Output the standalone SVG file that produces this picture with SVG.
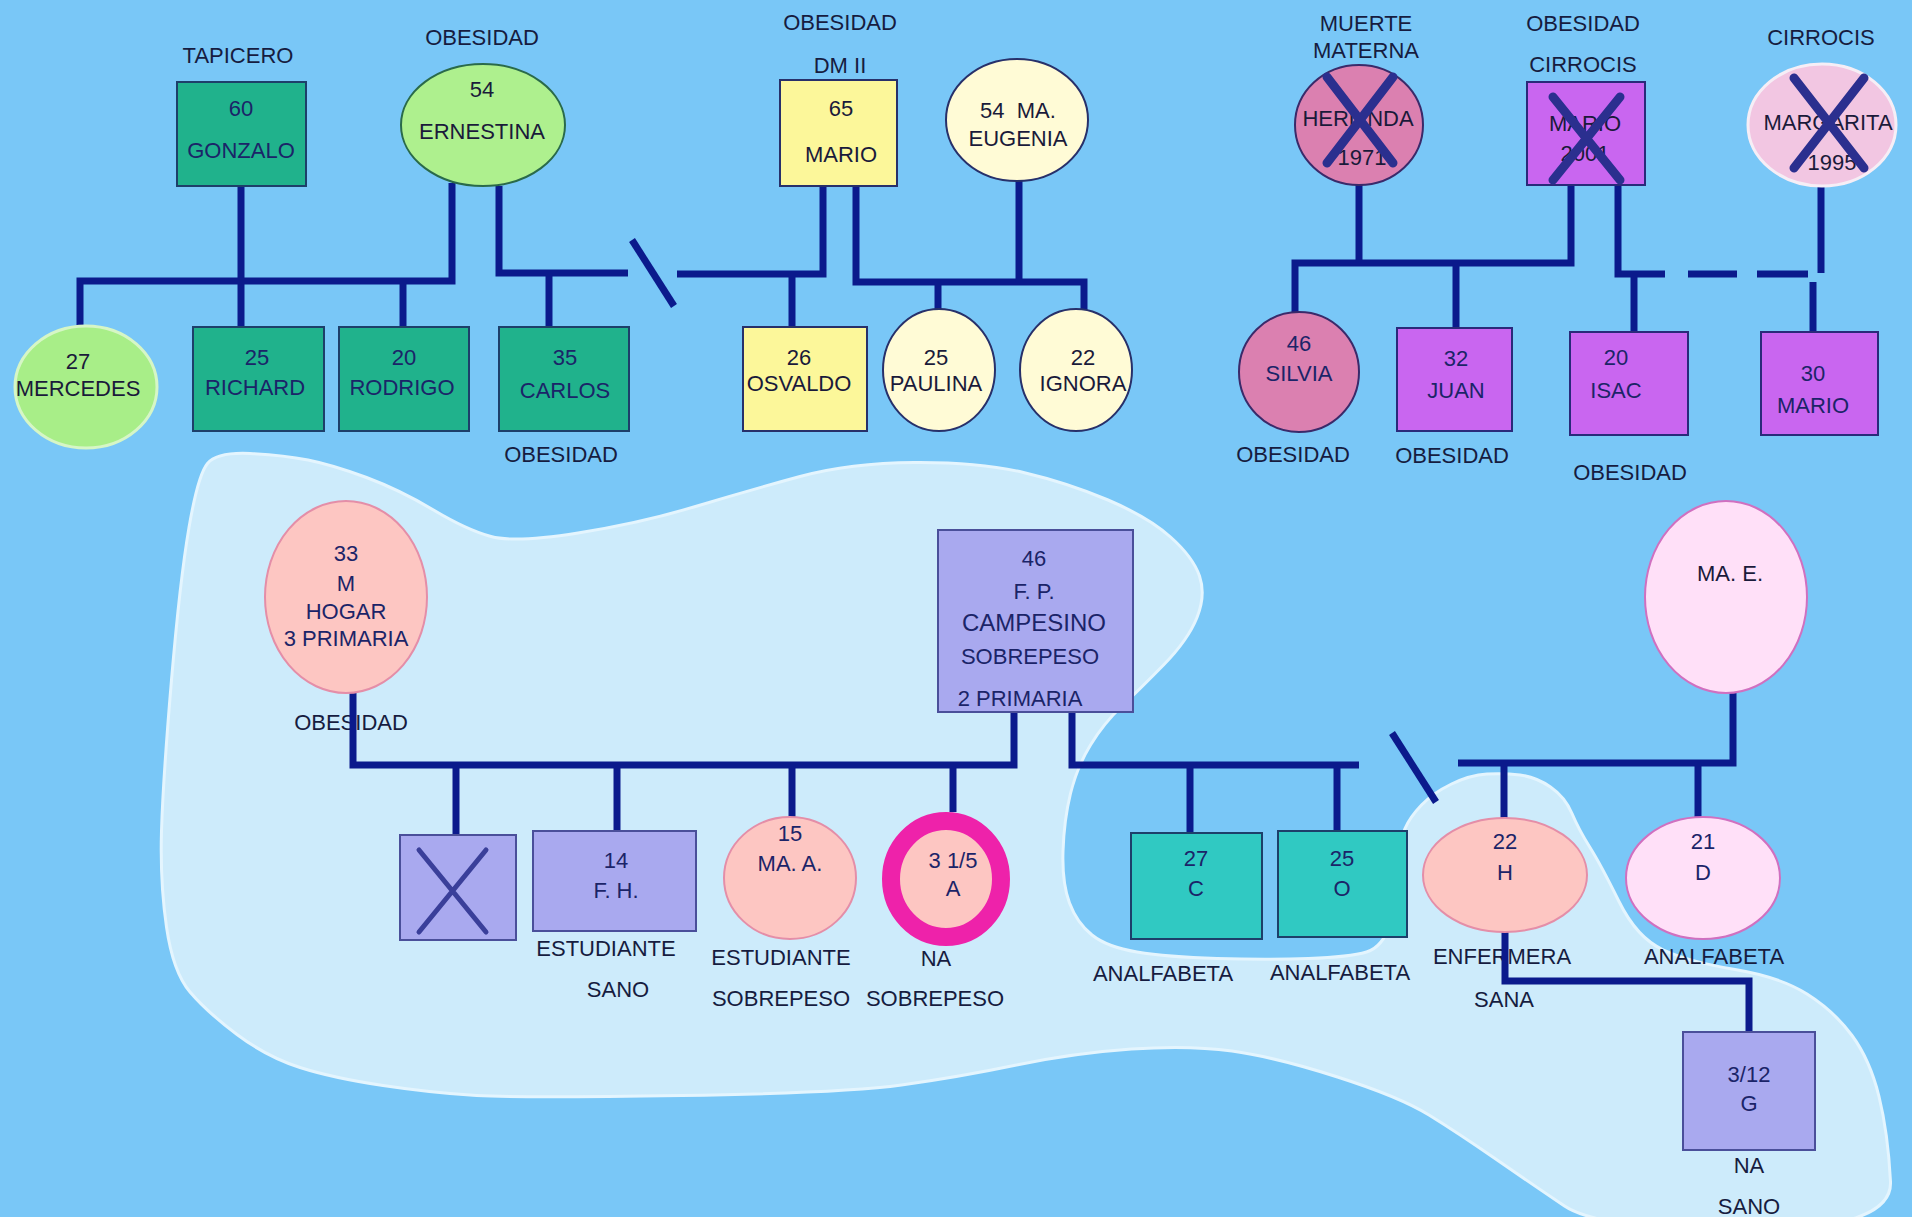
<svg xmlns="http://www.w3.org/2000/svg" width="1912" height="1217" viewBox="0 0 1912 1217">
<style>
text{font-family:"Liberation Sans",Arial,sans-serif;font-size:22px;text-anchor:middle;fill:#1b2468}
.lbl{fill:#161c40}
.dk{fill:#1a1a3a}
.c{fill:none;stroke:#0b1a8c;stroke-width:7;stroke-linejoin:miter}
.x{stroke:#2b2f8f;stroke-width:9;stroke-linecap:round}
.x2{stroke:#3a3f9a;stroke-width:5;stroke-linecap:round}
.teal{fill:#20b28c;stroke:#1d3f6a;stroke-width:2}
.cyan{fill:#30c9c2;stroke:#1d3f6a;stroke-width:2}
.yel{fill:#fcf79a;stroke:#27306a;stroke-width:2}
.ivory{fill:#fffbd6;stroke:#27306a;stroke-width:2}
.green{fill:#aef08e;stroke:#2a6a4a;stroke-width:2}
.mauve{fill:#db80b0;stroke:#3a2a6a;stroke-width:2}
.purple{fill:#c966f0;stroke:#2a2a7a;stroke-width:2}
.lav{fill:#a9a9ef;stroke:#4a4f9a;stroke-width:2}
.salmon{fill:#fdc6c2;stroke:#e48ea8;stroke-width:2}
.lpink{fill:#ffe0f8;stroke:#d070c0;stroke-width:2}
</style>
<rect width="1912" height="1217" fill="#79c7f7"/>
<path id="blob" fill="#cdebfb" stroke="#e4f5fe" stroke-width="3" d="M250,453.5 Q283,455 308,460 Q333,465 366.5,477.5 Q400,490 433.5,510 Q467,530 491,536.5 Q515,543 578,533 Q641,523 695.5,506.5 Q750,490 800,476.5 Q850,463 914.5,462.5 Q979,462 1023.5,472.5 Q1068,483 1108,500 Q1148,517 1170.5,537 Q1193,557 1199.5,576 Q1206,595 1197,617.5 Q1188,640 1163.5,665 Q1139,690 1121.5,706.5 Q1104,723 1090.5,745 Q1077,767 1070.5,793.5 Q1064,820 1063,851.5 Q1062,883 1069.5,903 Q1077,923 1092,935 Q1107,947 1137,952 Q1167,957 1217,958.5 Q1267,960 1308.5,958.5 Q1350,957 1366.5,952 Q1383,947 1390,923.5 Q1397,900 1398.5,870 Q1400,840 1405,828.5 Q1410,817 1421.5,805 Q1433,793 1451.5,784 Q1470,775 1487,774 Q1504,773 1520,775 Q1536,777 1550.5,787 Q1565,797 1572,813.5 Q1579,830 1590,847.5 Q1601,865 1619,901.5 Q1637,938 1663.5,950 Q1690,962 1735,969.5 Q1780,977 1807,994 Q1834,1011 1852,1035.5 Q1870,1060 1879,1096.5 Q1888,1133 1890.5,1181.5 Q1893,1230 1746.5,1230 Q1600,1230 1564.5,1206 Q1529,1182 1493.5,1157.5 Q1458,1133 1429,1115 Q1400,1097 1337.5,1077 Q1275,1057 1232,1051 Q1189,1045 1131.5,1049 Q1074,1053 1016.5,1065 Q959,1077 901.5,1085 Q844,1093 682,1095.5 Q520,1098 476.5,1095.5 Q433,1093 383,1085.5 Q333,1078 300,1067.5 Q267,1057 237,1034.5 Q207,1012 190,992 Q173,972 166.5,927 Q160,882 161.5,831 Q163,780 171.5,680 Q180,580 189,527.5 Q198,475 207.5,463.5 Q217,452 250,453.5 Z"/>
<g id="labels" class="lbl">
<text class="lbl" x="238" y="63">TAPICERO</text>
<text class="lbl" x="482" y="45">OBESIDAD</text>
<text class="lbl" x="840" y="30">OBESIDAD</text>
<text class="lbl" x="840" y="73">DM II</text>
<text class="lbl" x="1366" y="31">MUERTE</text>
<text class="lbl" x="1366" y="58">MATERNA</text>
<text class="lbl" x="1583" y="31">OBESIDAD</text>
<text class="lbl" x="1583" y="72">CIRROCIS</text>
<text class="lbl" x="1821" y="45">CIRROCIS</text>
<text class="lbl" x="561" y="462">OBESIDAD</text>
<text class="lbl" x="1293" y="462">OBESIDAD</text>
<text class="lbl" x="1452" y="463">OBESIDAD</text>
<text class="lbl" x="1630" y="480">OBESIDAD</text>
<text class="lbl" x="351" y="730">OBESIDAD</text>
<text class="lbl" x="606" y="956">ESTUDIANTE</text>
<text class="lbl" x="618" y="997">SANO</text>
<text class="lbl" x="781" y="965">ESTUDIANTE</text>
<text class="lbl" x="781" y="1006">SOBREPESO</text>
<text class="lbl" x="936" y="966">NA</text>
<text class="lbl" x="935" y="1006">SOBREPESO</text>
<text class="lbl" x="1163" y="981">ANALFABETA</text>
<text class="lbl" x="1340" y="980">ANALFABETA</text>
<text class="lbl" x="1502" y="964">ENFERMERA</text>
<text class="lbl" x="1504" y="1007">SANA</text>
<text class="lbl" x="1714" y="964">ANALFABETA</text>
<text class="lbl" x="1749" y="1173">NA</text>
<text class="lbl" x="1749" y="1214">SANO</text>
</g>
<g id="connectors">
<path class="c" d="M241,186 V330"/>
<path class="c" d="M452,183 V281 H80 V330"/>
<path class="c" d="M403,281 V330"/>
<path class="c" d="M499,186 V273 H628"/>
<path class="c" d="M632,240 L674,306"/>
<path class="c" d="M677,274 H823 V186"/>
<path class="c" d="M792,274 V328"/>
<path class="c" d="M549,273 V330"/>
<path class="c" d="M856,186 V282 H1084 V312"/>
<path class="c" d="M1019,180 V282"/>
<path class="c" d="M938,282 V312"/>
<path class="c" d="M1359,185 V263"/>
<path class="c" d="M1295,313 V263 H1571 V185"/>
<path class="c" d="M1456,263 V328"/>
<path class="c" d="M1618,185 V274 H1665"/>
<path class="c" d="M1688,274 H1737"/>
<path class="c" d="M1757,274 H1808"/>
<path class="c" d="M1821,186 V273"/>
<path class="c" d="M1634,274 V332"/>
<path class="c" d="M1813,282 V332"/>
<path class="c" d="M353,693 V765 H1014 V712"/>
<path class="c" d="M456,765 V835"/>
<path class="c" d="M617,765 V831"/>
<path class="c" d="M792,765 V818"/>
<path class="c" d="M953,765 V812"/>
<path class="c" d="M1072,712 V765 H1359"/>
<path class="c" d="M1392,733 L1436,802"/>
<path class="c" d="M1458,763 H1733 V693"/>
<path class="c" d="M1190,765 V833"/>
<path class="c" d="M1337,765 V831"/>
<path class="c" d="M1504,763 V818"/>
<path class="c" d="M1698,763 V818"/>
<path class="c" d="M1505,932 V981 H1749 V1032"/>
</g>
<g id="gonzalo"><rect class="teal" x="177" y="82" width="129" height="104"/><text x="241" y="116">60</text><text x="241" y="158">GONZALO</text></g>
<g id="ernestina"><ellipse class="green" cx="483" cy="125" rx="82" ry="61"/><text class="dk" x="482" y="97">54</text><text class="dk" x="482" y="139">ERNESTINA</text></g>
<g id="mario65"><rect class="yel" x="780" y="80" width="117" height="106"/><text class="dk" x="841" y="116">65</text><text class="dk" x="841" y="162">MARIO</text></g>
<g id="eugenia"><ellipse class="ivory" cx="1017" cy="120" rx="71" ry="61"/><text class="dk" x="1018" y="118" xml:space="preserve">54  MA.</text><text class="dk" x="1018" y="146">EUGENIA</text></g>
<g id="herlinda"><ellipse class="mauve" cx="1359" cy="125" rx="64" ry="60"/><text class="dk" x="1358" y="126">HERLINDA</text><text class="dk" x="1362" y="165">1971</text><path class="x" d="M1327,77 L1393,163 M1393,77 L1327,163"/></g>
<g id="mario2001"><rect class="purple" x="1527" y="82" width="118" height="103"/><text class="dk" x="1585" y="131">MARIO</text><text class="dk" x="1585" y="161">2001</text><path class="x" d="M1553,97 L1620,180 M1620,97 L1553,180"/></g>
<g id="margarita"><ellipse fill="#f2c6e2" stroke="#f6eef6" stroke-width="3" cx="1822" cy="125" rx="74" ry="61"/><text class="dk" x="1828" y="130">MARGARITA</text><text class="dk" x="1832" y="170">1995</text><path class="x" d="M1794,78 L1864,168 M1864,78 L1794,168"/></g>
<g id="mercedes"><ellipse fill="#a8ee88" stroke="#d6f6c6" stroke-width="3" cx="86" cy="387" rx="71" ry="61"/><text class="dk" x="78" y="369">27</text><text class="dk" x="78" y="396">MERCEDES</text></g>
<g id="richard"><rect class="teal" x="193" y="327" width="131" height="104"/><text x="257" y="365">25</text><text x="255" y="395">RICHARD</text></g>
<g id="rodrigo"><rect class="teal" x="339" y="327" width="130" height="104"/><text x="404" y="365">20</text><text x="402" y="395">RODRIGO</text></g>
<g id="carlos"><rect class="teal" x="499" y="327" width="130" height="104"/><text x="565" y="365">35</text><text x="565" y="398">CARLOS</text></g>
<g id="osvaldo"><rect class="yel" x="743" y="327" width="124" height="104"/><text class="dk" x="799" y="365">26</text><text class="dk" x="799" y="391">OSVALDO</text></g>
<g id="paulina"><ellipse class="ivory" cx="939" cy="370" rx="56" ry="61"/><text class="dk" x="936" y="365">25</text><text class="dk" x="936" y="391">PAULINA</text></g>
<g id="ignora"><ellipse class="ivory" cx="1076" cy="370" rx="56" ry="61"/><text class="dk" x="1083" y="365">22</text><text class="dk" x="1083" y="391">IGNORA</text></g>
<g id="silvia"><ellipse class="mauve" cx="1299" cy="372" rx="60" ry="60"/><text x="1299" y="351">46</text><text x="1299" y="381">SILVIA</text></g>
<g id="juan"><rect class="purple" x="1397" y="328" width="115" height="103"/><text x="1456" y="366">32</text><text x="1456" y="398">JUAN</text></g>
<g id="isac"><rect class="purple" x="1570" y="332" width="118" height="103"/><text x="1616" y="365">20</text><text x="1616" y="398">ISAC</text></g>
<g id="mario30"><rect class="purple" x="1761" y="332" width="117" height="103"/><text x="1813" y="381">30</text><text x="1813" y="413">MARIO</text></g>
<g id="m33"><ellipse class="salmon" cx="346" cy="597" rx="81" ry="96"/><text x="346" y="561">33</text><text x="346" y="591">M</text><text x="346" y="619">HOGAR</text><text x="346" y="646">3 PRIMARIA</text></g>
<g id="fp46"><rect class="lav" x="938" y="530" width="195" height="182"/><text x="1034" y="566">46</text><text x="1034" y="599">F. P.</text><text x="1034" y="631" style="font-size:24px">CAMPESINO</text><text x="1030" y="664">SOBREPESO</text><text x="1020" y="706">2 PRIMARIA</text></g>
<g id="mae"><ellipse class="lpink" cx="1726" cy="597" rx="81" ry="96"/><text class="dk" x="1730" y="581">MA. E.</text></g>
<g id="xchild"><rect class="lav" x="400" y="835" width="116" height="105"/><path class="x2" d="M419,850 L486,932 M486,850 L419,932"/></g>
<g id="fh14"><rect class="lav" x="533" y="831" width="163" height="100"/><text x="616" y="868">14</text><text x="616" y="898">F. H.</text></g>
<g id="maa15"><ellipse class="salmon" cx="790" cy="878" rx="66" ry="61"/><text x="790" y="841">15</text><text x="790" y="871">MA. A.</text></g>
<g id="a315"><ellipse fill="#fdc6c2" stroke="#ee22aa" stroke-width="18" cx="946" cy="879" rx="55" ry="58"/><text x="953" y="868">3 1/5</text><text x="953" y="896">A</text></g>
<g id="c27"><rect class="cyan" x="1131" y="833" width="131" height="106"/><text x="1196" y="866">27</text><text x="1196" y="896">C</text></g>
<g id="o25"><rect class="cyan" x="1278" y="831" width="129" height="106"/><text x="1342" y="866">25</text><text x="1342" y="896">O</text></g>
<g id="h22"><ellipse class="salmon" cx="1505" cy="875" rx="82" ry="57"/><text x="1505" y="849">22</text><text x="1505" y="880">H</text></g>
<g id="d21"><ellipse class="lpink" cx="1703" cy="878" rx="77" ry="61"/><text x="1703" y="849">21</text><text x="1703" y="880">D</text></g>
<g id="g312"><rect class="lav" x="1683" y="1032" width="132" height="118"/><text x="1749" y="1082">3/12</text><text x="1749" y="1111">G</text></g>
</svg>
